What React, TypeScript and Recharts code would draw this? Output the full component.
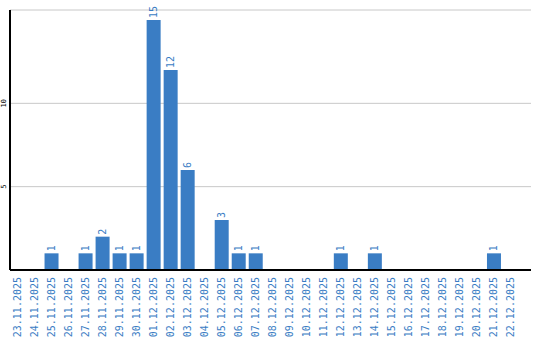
import { Bar, BarChart, CartesianGrid, LabelList, XAxis, YAxis } from "recharts";

const dates = [
  "23.11.2025", "24.11.2025", "25.11.2025", "26.11.2025", "27.11.2025",
  "28.11.2025", "29.11.2025", "30.11.2025", "01.12.2025", "02.12.2025",
  "03.12.2025", "04.12.2025", "05.12.2025", "06.12.2025", "07.12.2025",
  "08.12.2025", "09.12.2025", "10.12.2025", "11.12.2025", "12.12.2025",
  "13.12.2025", "14.12.2025", "15.12.2025", "16.12.2025", "17.12.2025",
  "18.12.2025", "19.12.2025", "20.12.2025", "21.12.2025", "22.12.2025",
];
const counts = [0, 0, 1, 0, 1, 2, 1, 1, 15, 12, 6, 0, 3, 1, 1, 0, 0, 0, 0, 1, 0, 1, 0, 0, 0, 0, 0, 0, 1, 0];
const yTicks = [5, 10];

const BLUE = "#3a7dc4";
const FONT = "'DejaVu Sans Mono', monospace";

const data = dates.map((d, i) => ({ date: d, count: counts[i] }));

const DateTick = ({ x, y, payload }: any) => (
  <text
    transform={`translate(${x},${y}) rotate(-90)`}
    textAnchor="end"
    dy="0.35em"
    fill={BLUE}
    fontSize={10}
    fontFamily={FONT}
  >
    {payload.value}
  </text>
);

const CountTick = ({ x, y, payload }: any) => (
  <text
    transform={`translate(${x},${y}) rotate(-90)`}
    textAnchor="middle"
    dy="0.35em"
    fill="#000"
    fontSize={7}
    fontFamily={FONT}
  >
    {payload.value}
  </text>
);

const TopLabel = ({ x, y, width, value }: any) => {
  if (!value) return null;
  const cx = x + width / 2;
  const cy = y - 2;
  return (
    <text
      transform={`translate(${cx},${cy}) rotate(-90)`}
      textAnchor="start"
      dy="0.35em"
      fill={BLUE}
      fontSize={10}
      fontFamily={FONT}
    >
      {value}
    </text>
  );
};

export default function App() {
  return (
    <div style={{ position: "absolute", left: 0, top: 0, width: 540, height: 340, background: "#fff" }}>
      <BarChart width={540} height={340} data={data} margin={{ top: 10, right: 9, left: 0, bottom: 0 }}>
        <CartesianGrid vertical={false} stroke="#c8c8c8" />
        <XAxis
          dataKey="date"
          interval={0}
          height={70}
          padding={{ left: -1.5, right: 12 }}
          tickLine={false}
          tickSize={0}
          axisLine={{ stroke: "#000", strokeWidth: 2 }}
          tick={<DateTick />}
          tickMargin={7}
        />
        <YAxis
          width={10}
          domain={[0, 15.6]}
          ticks={yTicks}
          tickLine={false}
          tickSize={0}
          axisLine={{ stroke: "#000", strokeWidth: 2 }}
          tick={<CountTick />}
          tickMargin={6}
        />
        <Bar dataKey="count" fill={BLUE} barSize={14} isAnimationActive={false}>
          <LabelList dataKey="count" content={<TopLabel />} />
        </Bar>
      </BarChart>
    </div>
  );
}
